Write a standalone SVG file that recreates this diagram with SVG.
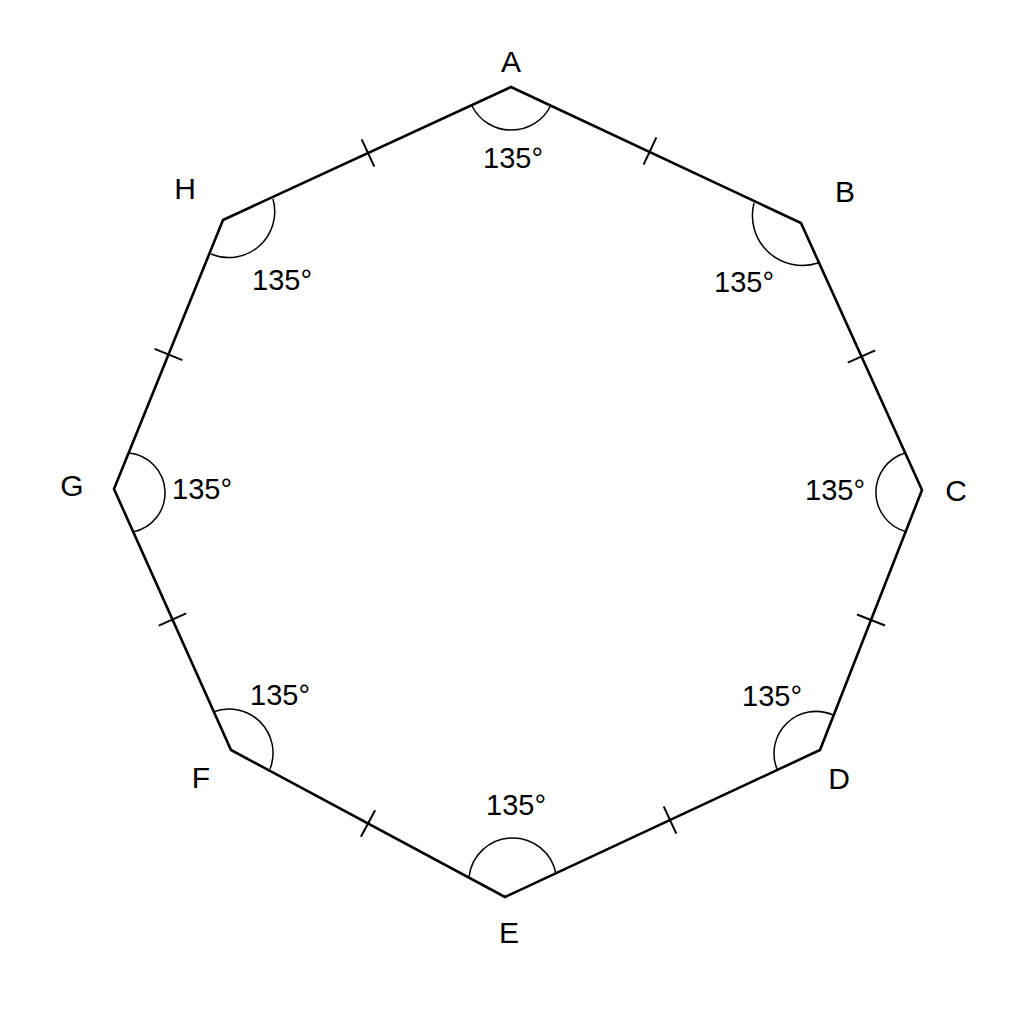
<svg xmlns="http://www.w3.org/2000/svg" width="1024" height="1024" viewBox="0 0 1024 1024">
<style>
.edge{fill:none;stroke:#000;stroke-width:2.6;stroke-linejoin:miter}
.arc{fill:none;stroke:#000;stroke-width:1.5}
.tick{stroke:#000;stroke-width:2}
.lbl{font-family:"Liberation Sans",Arial,sans-serif;font-size:30px;fill:#000;text-anchor:middle}
.ang{font-family:"Liberation Sans",Arial,sans-serif;font-size:29px;fill:#000;text-anchor:middle}
</style>
<rect width="1024" height="1024" fill="#fff"/>
<g id="connectors">
<polygon class="edge" points="511,87 801,223 922,490 820,750 505,897 231,750 114,489 223,220"/>
<line class="tick" x1="656.4" y1="137.4" x2="643.6" y2="164.6"/>
<line class="tick" x1="875.2" y1="350.3" x2="847.8" y2="362.7"/>
<line class="tick" x1="885" y1="625.5" x2="857" y2="614.5"/>
<line class="tick" x1="676.3" y1="833.6" x2="663.7" y2="806.4"/>
<line class="tick" x1="375.1" y1="810.3" x2="360.9" y2="836.7"/>
<line class="tick" x1="186.2" y1="613.4" x2="158.8" y2="625.6"/>
<line class="tick" x1="182.4" y1="360.1" x2="154.6" y2="348.9"/>
<line class="tick" x1="374.3" y1="166.6" x2="361.7" y2="139.4"/>
</g>
<g id="node-A">
<path class="arc" d="M 472 106 A 44 44 0 0 0 551 105"/>
<text class="lbl" x="511" y="72">A</text>
<text class="ang" x="513" y="168">135°</text>
</g>
<g id="node-B">
<path class="arc" d="M 754 203 A 50 50 0 0 0 818 263"/>
<text class="lbl" x="845" y="202">B</text>
<text class="ang" x="744" y="292">135°</text>
</g>
<g id="node-C">
<path class="arc" d="M 905 453 A 41 41 0 0 0 907 532"/>
<text class="lbl" x="956" y="501">C</text>
<text class="ang" x="835" y="500">135°</text>
</g>
<g id="node-D">
<path class="arc" d="M 833 715 A 42 42 0 0 0 777 769"/>
<text class="lbl" x="839" y="789">D</text>
<text class="ang" x="772" y="706">135°</text>
</g>
<g id="node-E">
<path class="arc" d="M 469 877 A 44 44 0 0 1 556 874"/>
<text class="lbl" x="509" y="943">E</text>
<text class="ang" x="516" y="815">135°</text>
</g>
<g id="node-F">
<path class="arc" d="M 213 712 A 44 44 0 0 1 270 769"/>
<text class="lbl" x="201" y="788">F</text>
<text class="ang" x="280" y="705">135°</text>
</g>
<g id="node-G">
<path class="arc" d="M 129 453 A 40 40 0 0 1 133 532"/>
<text class="lbl" x="72" y="496">G</text>
<text class="ang" x="202" y="499">135°</text>
</g>
<g id="node-H">
<path class="arc" d="M 273 199 A 46 46 0 0 1 211 254"/>
<text class="lbl" x="185" y="199">H</text>
<text class="ang" x="282" y="290">135°</text>
</g>
</svg>
